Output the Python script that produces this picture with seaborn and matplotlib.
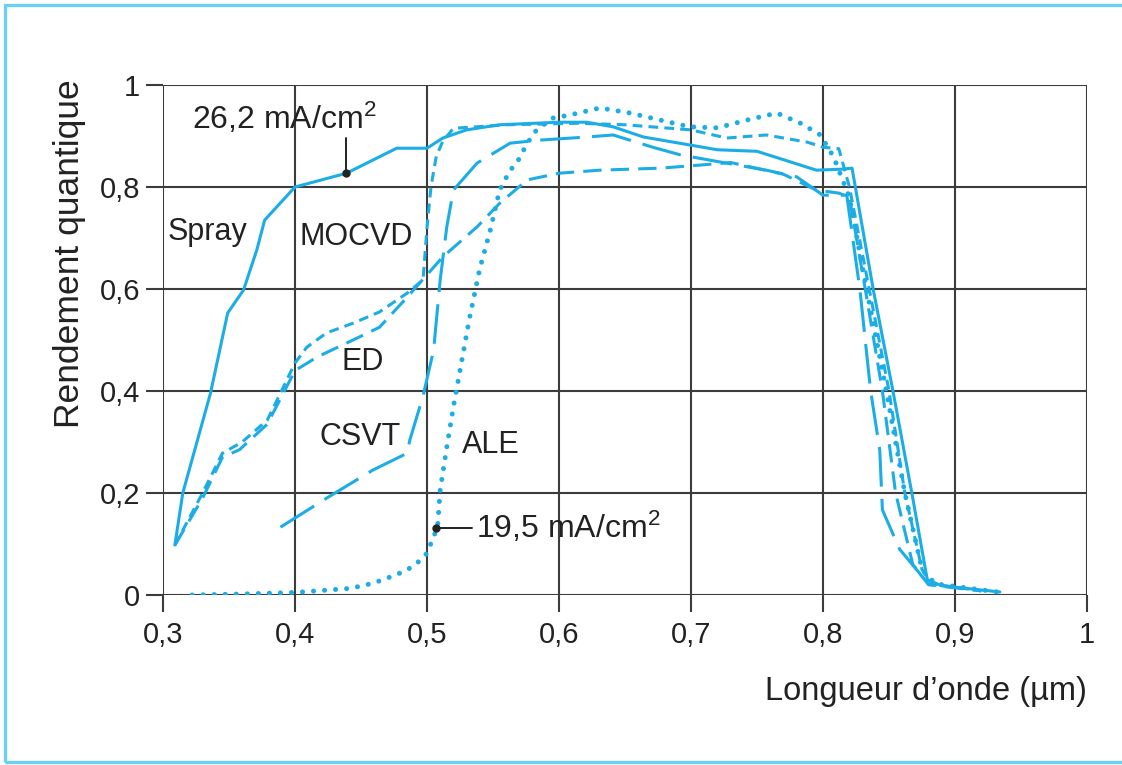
import matplotlib
matplotlib.use("Agg")
import matplotlib.pyplot as plt
from matplotlib.patches import Rectangle
import seaborn as sns

# courbes (longueur d'onde en µm, rendement quantique)
spray_x = [0.309, 0.315, 0.336, 0.349, 0.361, 0.371, 0.377, 0.400, 0.439, 0.477, 0.500, 0.512, 0.530,
           0.555, 0.600, 0.621, 0.641, 0.664, 0.700, 0.720, 0.750, 0.795, 0.815, 0.822, 0.838, 0.853,
           0.868, 0.879, 0.890, 0.934]
spray_y = [0.098, 0.200, 0.396, 0.553, 0.598, 0.676, 0.735, 0.800, 0.827, 0.876, 0.876, 0.896, 0.912,
           0.922, 0.927, 0.927, 0.918, 0.898, 0.882, 0.873, 0.870, 0.833, 0.835, 0.837, 0.600, 0.400,
           0.190, 0.030, 0.018, 0.006]

mocvd_x = [0.309, 0.330, 0.345, 0.360, 0.379, 0.389, 0.400, 0.409, 0.424, 0.444, 0.464, 0.485, 0.497,
           0.500, 0.503, 0.507, 0.512, 0.520, 0.560, 0.614, 0.650, 0.700, 0.727, 0.757, 0.788, 0.800,
           0.812, 0.820, 0.835, 0.850, 0.862, 0.875, 0.882, 0.920]
mocvd_y = [0.098, 0.200, 0.278, 0.300, 0.343, 0.396, 0.455, 0.486, 0.514, 0.533, 0.555, 0.592, 0.618,
           0.720, 0.800, 0.860, 0.890, 0.915, 0.922, 0.925, 0.922, 0.912, 0.896, 0.902, 0.888, 0.878,
           0.875, 0.800, 0.600, 0.400, 0.200, 0.050, 0.022, 0.008]

ed_x = [0.309, 0.330, 0.345, 0.358, 0.379, 0.389, 0.400, 0.417, 0.444, 0.464, 0.485, 0.512, 0.538,
        0.555, 0.576, 0.600, 0.631, 0.677, 0.707, 0.730, 0.770, 0.795, 0.812, 0.820, 0.832, 0.845,
        0.855, 0.868, 0.880, 0.920]
ed_y = [0.098, 0.190, 0.270, 0.285, 0.335, 0.385, 0.440, 0.467, 0.500, 0.525, 0.584, 0.663, 0.722,
        0.768, 0.814, 0.827, 0.833, 0.837, 0.843, 0.848, 0.825, 0.794, 0.788, 0.780, 0.600, 0.400,
        0.200, 0.060, 0.020, 0.008]

csvt_x = [0.389, 0.424, 0.459, 0.485, 0.487, 0.497, 0.505, 0.510, 0.515, 0.520, 0.538, 0.563, 0.586,
          0.621, 0.641, 0.671, 0.692, 0.720, 0.757, 0.780, 0.800, 0.818, 0.828, 0.836, 0.843, 0.845,
          0.858, 0.873, 0.880]
csvt_y = [0.133, 0.190, 0.245, 0.278, 0.304, 0.390, 0.480, 0.618, 0.722, 0.794, 0.847, 0.886, 0.892,
          0.898, 0.902, 0.878, 0.863, 0.850, 0.833, 0.820, 0.784, 0.784, 0.598, 0.402, 0.284, 0.167,
          0.090, 0.043, 0.020]

ale_x = [0.322, 0.360, 0.400, 0.442, 0.459, 0.475, 0.485, 0.495, 0.500, 0.505, 0.508, 0.510, 0.515,
         0.520, 0.525, 0.532, 0.540, 0.548, 0.555, 0.563, 0.568, 0.576, 0.583, 0.595, 0.608, 0.631,
         0.654, 0.677, 0.699, 0.720, 0.742, 0.765, 0.783, 0.798, 0.808, 0.820, 0.833, 0.848, 0.862,
         0.875, 0.885, 0.935]
ale_y = [0.000, 0.002, 0.005, 0.013, 0.023, 0.038, 0.049, 0.068, 0.082, 0.114, 0.133, 0.206, 0.290,
         0.369, 0.440, 0.540, 0.640, 0.716, 0.794, 0.833, 0.847, 0.886, 0.912, 0.935, 0.941, 0.955,
         0.945, 0.931, 0.918, 0.916, 0.931, 0.945, 0.925, 0.902, 0.859, 0.780, 0.600, 0.400, 0.200,
         0.050, 0.022, 0.005]

x_ticks = [0.3, 0.4, 0.5, 0.6, 0.7, 0.8, 0.9, 1.0]
x_labels = ["0,3", "0,4", "0,5", "0,6", "0,7", "0,8", "0,9", "1"]
y_ticks = [0, 0.2, 0.4, 0.6, 0.8, 1.0]
y_labels = ["0", "0,2", "0,4", "0,6", "0,8", "1"]

bleu = "#1cace6"
gris = "#3c3c3c"
texte = "#222222"

sns.set_theme(style="white")
plt.rcParams["font.family"] = ["Liberation Sans", "DejaVu Sans"]
plt.rcParams["mathtext.fontset"] = "custom"
plt.rcParams["mathtext.rm"] = "Liberation Sans"

fig = plt.figure(figsize=(11.22, 7.65), dpi=100)
ax = fig.add_axes([163 / 1122, 1 - 595 / 765, 924 / 1122, 510 / 765])

# cadre bleu clair autour de la figure
fig.patches.append(Rectangle((5 / 1122, 3 / 765), 1.2, 1 - 8 / 765, transform=fig.transFigure,
                             fill=False, edgecolor="#6ccff4", linewidth=2.4, zorder=0))

lw = 2.2
courbes = [
    (spray_x, spray_y, (None, None)),
    (mocvd_x, mocvd_y, (3.2, 2.0)),
    (ed_x, ed_y, (6.0, 3.0)),
    (csvt_x, csvt_y, (13.0, 4.0)),
]
for xs, ys, motif in courbes:
    sns.lineplot(x=xs, y=ys, sort=False, estimator=None, color=bleu, linewidth=lw, ax=ax)
    line = ax.lines[-1]
    if motif[0] is not None:
        line.set_dashes(motif)

sns.lineplot(x=ale_x, y=ale_y, sort=False, estimator=None, color=bleu, linewidth=3.6, ax=ax)
dots = ax.lines[-1]
dots.set_dashes((0.01, 2.2))
dots.set_dash_capstyle("round")

ax.set_xlim(0.3, 1.0)
ax.set_ylim(0, 1.0)
ax.set_xticks(x_ticks, x_labels)
ax.set_yticks(y_ticks, y_labels)
ax.grid(True, color=gris, linewidth=1.5)
for s in ax.spines.values():
    s.set_visible(False)
ax.tick_params(axis="both", length=12.5, width=1.5, color=gris, direction="out",
               labelsize=21, labelcolor=texte)
ax.tick_params(axis="x", pad=6)
ax.tick_params(axis="y", pad=4)
ax.tick_params(bottom=True, left=True)

ax.set_xlabel("Longueur d\u2019onde (\u00b5m)", fontsize=23.5, color=texte, loc="right", labelpad=20)
ax.set_ylabel("Rendement quantique", fontsize=25.5, color=texte, loc="top", labelpad=10)
ax.yaxis.label.set_y(1.012)

# noms des procédés
for nom, xt, yt in [("Spray", 0.334, 0.712), ("MOCVD", 0.446, 0.702), ("ED", 0.451, 0.457),
                    ("CSVT", 0.449, 0.310), ("ALE", 0.548, 0.294)]:
    ax.text(xt, yt, nom, fontsize=22, color=texte, ha="center", va="center")

# densités de courant
ax.plot([0.439], [0.827], "o", color="#222222", markersize=5)
ax.plot([0.439, 0.439], [0.827, 0.896], color="#222222", linewidth=1.4)
ax.text(0.322, 0.935, "26,2 mA/cm$\\mathregular{^2}$", fontsize=23, color=texte, ha="left", va="center")

ax.plot([0.507], [0.131], "o", color="#222222", markersize=5)
ax.plot([0.507, 0.534], [0.131, 0.131], color="#222222", linewidth=1.4)
ax.text(0.5375, 0.133, "19,5 mA/cm$\\mathregular{^2}$", fontsize=23, color=texte, ha="left", va="center")

fig.savefig("out.png", dpi=100)
